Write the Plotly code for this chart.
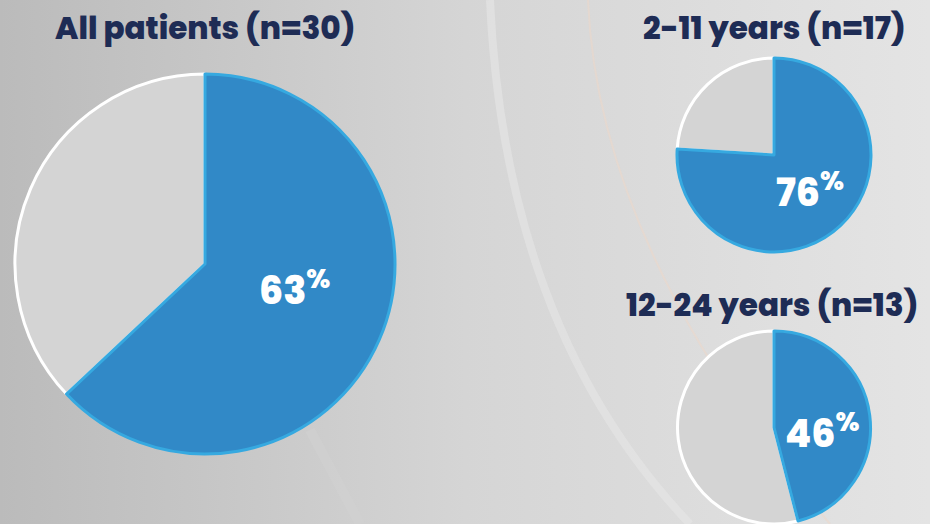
import plotly.graph_objects as go

# ---- data ----
titles = ["All patients (n=30)", "2-11 years (n=17)", "12-24 years (n=13)"]
responders_pct = [63, 76, 46]          # blue slice (%)
other_pct = [100 - v for v in responders_pct]

# ---- styling ----
W, H = 930, 524
BLUE = "#3189C7"
BLUE_EDGE = "#36A9E0"
GREY = "#D4D4D4"
NAVY = "#1E2C55"
FONT = "Poppins, Inter, 'Open Sans', sans-serif"

domains = [
    dict(x=[15 / W, 395 / W], y=[(H - 454) / H, (H - 74) / H]),
    dict(x=[677 / W, 871 / W], y=[(H - 252) / H, (H - 58) / H]),
    dict(x=[677 / W, 871 / W], y=[0.0, (H - 331) / H]),
]
label_pos = [(294, 288), (810, 190), (822, 431)]
title_pos = [(205, 28), (774, 28), (772, 305)]

fig = go.Figure()
for i in range(3):
    fig.add_trace(go.Pie(
        values=[other_pct[i], responders_pct[i]],
        labels=["Other", "Responders"],
        sort=False,
        direction="clockwise",
        rotation=3.6 * responders_pct[i],
        domain=domains[i],
        marker=dict(colors=[GREY, BLUE],
                    line=dict(color=["#FFFFFF", BLUE_EDGE], width=3)),
        textinfo="none",
        hoverinfo="label+percent",
        showlegend=False,
    ))

annotations = []
for i in range(3):
    tx, ty = title_pos[i]
    annotations.append(dict(
        x=tx / W, y=1 - ty / H, xref="paper", yref="paper",
        text=titles[i], showarrow=False, xanchor="center", yanchor="middle",
        font=dict(family=FONT, size=31, color=NAVY, weight=800)))
    lx, ly = label_pos[i]
    annotations.append(dict(
        x=lx / W, y=1 - ly / H, xref="paper", yref="paper",
        text=f"{responders_pct[i]}<sup>%</sup>", showarrow=False,
        xanchor="center", yanchor="middle",
        font=dict(family=FONT, size=38, color="#FFFFFF", weight=800)))

bg_svg = (
    "data:image/svg+xml;utf8,"
    "<svg xmlns='http://www.w3.org/2000/svg' width='930' height='524'>"
    "<defs><linearGradient id='g' x1='0' y1='0' x2='1' y2='0'>"
    "<stop offset='0' stop-color='%23BBBBBB'/>"
    "<stop offset='0.22' stop-color='%23C6C6C6'/>"
    "<stop offset='0.5' stop-color='%23D5D5D5'/>"
    "<stop offset='1' stop-color='%23E4E4E4'/>"
    "</linearGradient></defs>"
    "<rect width='930' height='524' fill='url(%23g)'/>"
    "<path d='M 490 0 Q 505 330 690 524' stroke='%23E6E6E6' stroke-width='8' fill='none' opacity='0.6'/>"
    "<path d='M 588 0 Q 598 250 830 524' stroke='%23F0D8C8' stroke-width='2' fill='none' opacity='0.5'/>"
    "<path d='M 310 430 L 360 524' stroke='%23D2D2D2' stroke-width='10' fill='none' opacity='0.5'/>"
    "</svg>"
)

fig.update_layout(
    width=W, height=H,
    margin=dict(l=0, r=0, t=0, b=0),
    paper_bgcolor="#D0D0D0",
    plot_bgcolor="rgba(0,0,0,0)",
    annotations=annotations,
    images=[dict(source=bg_svg, xref="paper", yref="paper", x=0, y=1,
                 sizex=1, sizey=1, xanchor="left", yanchor="top",
                 sizing="stretch", layer="below")],
)

fig.write_html("out.html",
               config={"displayModeBar": False},
               post_script="document.body.style.margin='0';document.body.style.overflow='hidden';")
